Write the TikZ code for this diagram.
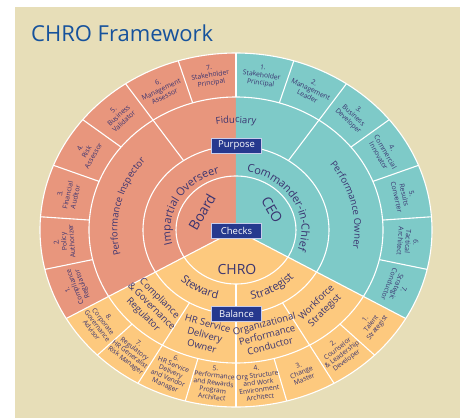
\documentclass[tikz,border=0pt]{standalone}
\usepackage{fontspec}
\setmainfont{Open Sans}
\usetikzlibrary{decorations.text}
\definecolor{bgbeige}{RGB}{231,222,184}
\definecolor{salmonc}{RGB}{232,150,125}
\definecolor{tealc}{RGB}{126,202,200}
\definecolor{orangec}{RGB}{253,201,126}
\definecolor{txt}{RGB}{58,52,112}
\definecolor{boxblue}{RGB}{38,57,142}
\definecolor{boxedge}{RGB}{200,205,235}
\definecolor{titleblue}{RGB}{22,82,156}
\newcommand\rtlab[3]{\node[olab,rotate={#2-90}] (#1) at (#2:172.5pt and 156pt) {#3};}
\newcommand\orlab[3]{\node[olab,font=\fontsize{6.7}{7.3}\selectfont,rotate={#2+90}] (#1) at (#2:171pt and 154pt) {#3};}
\begin{document}
\begin{tikzpicture}[x=1pt,y=1pt,
  wl/.style={draw=white,line width=1.1pt},
  olab/.style={text=txt,align=center,inner sep=0pt,font=\fontsize{6.8}{7.8}\selectfont},
  mlab/.style={text=txt,align=center,inner sep=0pt,font=\fontsize{9.5}{11.5}\selectfont},
  clab/.style={text=txt,inner sep=0pt,font=\fontsize{14}{16}\selectfont},
  tag/.style={fill=boxblue,draw=boxedge,line width=0.8pt,text=white,minimum width=50pt,minimum height=15pt,inner sep=0pt,font=\fontsize{9.5}{11}\selectfont},
  ctext/.style={decorate,decoration={text along path,text align=center,text color=txt,text={#1}}}
]
\useasboundingbox (-236,-188) rectangle (230,230);
\fill[bgbeige] (-221,-188) rectangle (224,223);
\node[anchor=base west,inner sep=0pt,text=titleblue,font=\fontsize{22}{26}\selectfont] (title) at (-205,189) {CHRO Framework};

% sectors
\fill[salmonc] (0,0) -- (90:196pt and 177pt) arc[start angle=90,end angle=210,x radius=196pt,y radius=177pt] -- cycle;
\fill[tealc] (0,0) -- (-30:196pt and 177pt) arc[start angle=-30,end angle=90,x radius=196pt,y radius=177pt] -- cycle;
\fill[orangec] (0,0) -- (210:196pt and 177pt) arc[start angle=210,end angle=330,x radius=196pt,y radius=177pt] -- cycle;

% white rings
\draw[wl] (0,0) ellipse[x radius=196pt,y radius=177pt];
\draw[wl] (0,0) ellipse[x radius=147pt,y radius=133pt];
\draw[wl] (0,0) ellipse[x radius=93pt,y radius=84pt];
\draw[wl] (0,0) ellipse[x radius=60pt,y radius=54pt];

% radial lines
\foreach \a in {210,330} \draw[wl] (0,0) -- (\a:196pt and 177pt);
\draw[wl] (270:60pt and 54pt) -- (270:196pt and 177pt);
\foreach \a in {240,300,124.286,55.714} \draw[wl] (\a:93pt and 84pt) -- (\a:196pt and 177pt);
\foreach \a in {90,107.143,141.429,158.571,175.714,192.857,72.857,38.571,21.429,4.286,-12.857,225,255,285,315}
  \draw[wl] (\a:147pt and 133pt) -- (\a:196pt and 177pt);

% outer ring labels: board
\rtlab{b7}{98.57}{7.\\Stakeholder\\Principal}
\rtlab{b6}{115.71}{6.\\Management\\Assessor}
\rtlab{b5}{132.86}{5.\\Business\\Validator}
\rtlab{b4}{150}{4.\\Risk\\Assessor}
\rtlab{b3}{167.14}{3.\\Financial\\Auditor}
\rtlab{b2}{184.29}{2.\\Policy\\Authorizer}
\rtlab{b1}{201.43}{1.\\Compliance\\Regulator}
% CEO
\rtlab{c1}{81.43}{1.\\Stakeholder\\Principal}
\rtlab{c2}{64.29}{2.\\Management\\Leader}
\rtlab{c3}{47.14}{3.\\Business\\Developer}
\rtlab{c4}{30}{4.\\Commercial\\Innovator}
\rtlab{c5}{12.86}{5.\\Results\\Converter}
\rtlab{c6}{-4.29}{6.\\Tactical\\Architect}
\rtlab{c7}{-21.43}{7.\\Strategic\\Conductor}
% CHRO
\orlab{h1}{322.5}{1.\\Talent\\Strategist}
\orlab{h2}{307.5}{2.\\Counselor\\\& Leadership\\Developer}
\orlab{h3}{292.5}{3.\\Change\\Master}
\orlab{h4}{277.5}{4.\\Org Structure\\and Work\\Environment\\Architect}
\orlab{h5}{262.5}{5.\\Performance\\and Rewards\\Program\\Architect}
\orlab{h6}{247.5}{6.\\HR Service\\Delivery\\and Vendor\\Manager}
\orlab{h7}{232.5}{7.\\Regulatory\\HR Generalist\\Risk Manager}
\orlab{h8}{217.5}{8.\\Corporate\\Governance\\Advisor}

% ring 3
\path[ctext={|\fontsize{9.5}{11}\selectfont|Fiduciary}] (130:118.5pt and 107pt) arc[start angle=130,end angle=50,x radius=118.5pt,y radius=107pt];
\path[ctext={|\fontsize{9.5}{11}\selectfont|Performance Inspector}] (212:118.5pt and 107pt) arc[start angle=212,end angle=122,x radius=118.5pt,y radius=107pt];
\path[ctext={|\fontsize{9.5}{11}\selectfont|Performance Owner}] (58.5:118.5pt and 107pt) arc[start angle=58.5,end angle=-31.5,x radius=118.5pt,y radius=107pt];
\node[mlab,rotate=-45] (cgr) at (225:120pt and 108.5pt) {Compliance\\\& Governance\\Regulator};
\node[mlab,rotate=-15] (hrs) at (255:120pt and 108.5pt) {HR Service\\Delivery\\Owner};
\node[mlab,rotate=15] (opc) at (285:120pt and 108.5pt) {Organizational\\Performance\\Conductor};
\node[mlab,rotate=45] (wfs) at (315:120pt and 108.5pt) {Workforce\\Strategist};

% ring 2
\path[ctext={|\fontsize{11}{13}\selectfont|Impartial Overseer}] (210:65.5pt and 59pt) arc[start angle=210,end angle=90,x radius=65.5pt,y radius=59pt];
\path[ctext={|\fontsize{11}{13}\selectfont|Commander-in-Chief}] (92:65.5pt and 59pt) arc[start angle=92,end angle=-32,x radius=65.5pt,y radius=59pt];
\path[ctext={|\fontsize{11}{13}\selectfont|Steward}] (205:78.6pt and 71pt) arc[start angle=205,end angle=275,x radius=78.6pt,y radius=71pt];
\path[ctext={|\fontsize{11}{13}\selectfont|Strategist}] (265:78.6pt and 71pt) arc[start angle=265,end angle=335,x radius=78.6pt,y radius=71pt];

% centre
\node[clab,rotate=60] (board) at (-34,18) {Board};
\node[clab,rotate=-60] (ceo) at (36,20) {CEO};
\node[clab] (chro) at (1,-39) {CHRO};

% tags
\node[tag] (purpose) at (0.5,84.5) {Purpose};
\node[tag] (checks) at (0.5,-1) {Checks};
\node[tag] (balance) at (0.5,-84) {Balance};
\end{tikzpicture}
\end{document}
